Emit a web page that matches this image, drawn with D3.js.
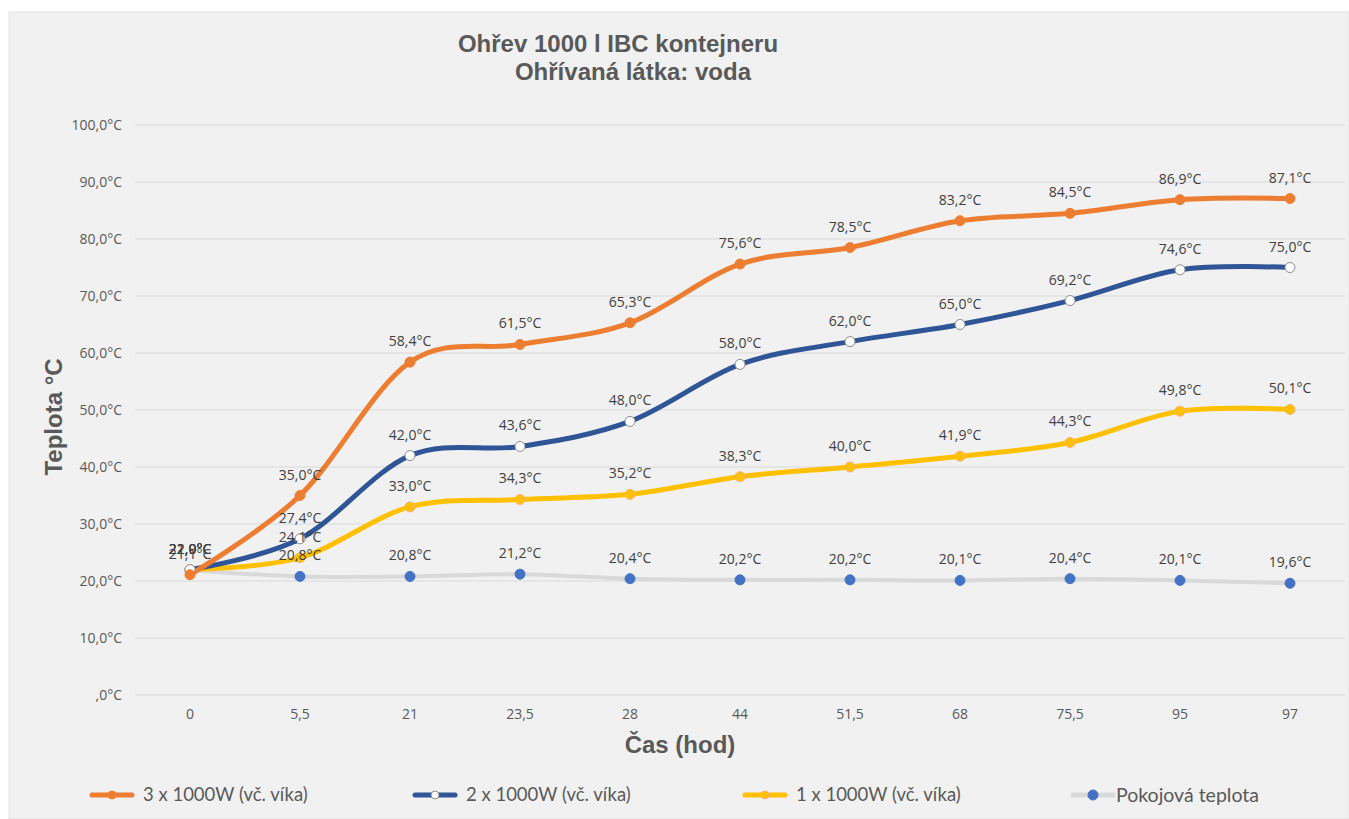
<!DOCTYPE html>
<html>
<head>
<meta charset="utf-8">
<script src="https://cdn.jsdelivr.net/npm/d3@7"></script>
<style>
  body { margin: 0; background: #fff; }
</style>
</head>
<body>
<svg id="chart" width="1349" height="819"></svg>
<script>
// Time points (hours) - categorical axis
const times = ["0", "5,5", "21", "23,5", "28", "44", "51,5", "68", "75,5", "95", "97"];

// Series values (°C)
const heat3 = [21.1, 35.0, 58.4, 61.5, 65.3, 75.6, 78.5, 83.2, 84.5, 86.9, 87.1];
const heat2 = [22.0, 27.4, 42.0, 43.6, 48.0, 58.0, 62.0, 65.0, 69.2, 74.6, 75.0];
const heat1 = [22.0, 24.1, 33.0, 34.3, 35.2, 38.3, 40.0, 41.9, 44.3, 49.8, 50.1];
const room  = [21.9, 20.8, 20.8, 21.2, 20.4, 20.2, 20.2, 20.1, 20.4, 20.1, 19.6];

const seriesNames = ["3 x 1000W (vč. víka)", "2 x 1000W (vč. víka)", "1 x 1000W (vč. víka)", "Pokojová teplota"];
const yTicks = [0, 10, 20, 30, 40, 50, 60, 70, 80, 90, 100];

const series = [
    { name: seriesNames[0], values: heat3, line: "#ED7D31", fill: "#ED7D31", stroke: "#ED7D31" },
    { name: seriesNames[1], values: heat2, line: "#2F5597", fill: "#ffffff", stroke: "#8c8c8c" },
    { name: seriesNames[2], values: heat1, line: "#FFC000", fill: "#FFC000", stroke: "#F4B183" },
    { name: seriesNames[3], values: room,  line: "#D9D9D9", fill: "#4472C4", stroke: "#4472C4" }
];

const svg = d3.select("#chart");
const textCol = "#595959";
const boldFont = "'Liberation Sans', Arial, sans-serif";
const bodyFont = "'Open Sans', sans-serif";

// chart area background
svg.append("rect")
    .attr("x", 9).attr("y", 12)
    .attr("width", 1340).attr("height", 807)
    .attr("fill", "#f1f1f1")
    .attr("stroke", "#e2e2e2");

// Title
const title = svg.append("text")
    .attr("text-anchor", "middle")
    .style("font-family", boldFont)
    .style("font-weight", "bold")
    .style("font-size", "24px")
    .attr("fill", textCol);
title.append("tspan").attr("x", 618).attr("y", 52).text("Ohřev 1000 l IBC kontejneru");
title.append("tspan").attr("x", 633).attr("y", 80).text("Ohřívaná látka: voda");

// Scales
const x = d3.scaleBand().domain(times).range([135, 1345]);
const y = d3.scaleLinear().domain([0, 100]).range([695, 125]);
const cx = d => x(d) + x.bandwidth() / 2;

// Gridlines
svg.append("g")
    .selectAll("line")
    .data(yTicks)
    .enter()
    .append("line")
    .attr("x1", 135).attr("x2", 1345)
    .attr("y1", d => y(d)).attr("y2", d => y(d))
    .attr("stroke", "#d9d9d9")
    .attr("stroke-width", 1);

// Y axis labels
const fmtY = v => (v === 0 ? ",0" : d3.format(".1f")(v).replace(".", ",")) + "°C";
const yAxis = svg.append("g")
    .attr("transform", "translate(135,0)")
    .call(d3.axisLeft(y).tickValues(yTicks).tickFormat(fmtY).tickSize(0).tickPadding(13));
yAxis.select(".domain").remove();
yAxis.selectAll("text").style("font-size", "14px").attr("fill", textCol)
    .style("font-family", bodyFont);

// X axis labels
const xAxis = svg.append("g")
    .attr("transform", "translate(0,695)")
    .call(d3.axisBottom(x).tickSize(0).tickPadding(14));
xAxis.select(".domain").remove();
xAxis.selectAll("text").style("font-size", "14px").attr("fill", textCol)
    .style("font-family", bodyFont);

// Axis titles
svg.append("text")
    .attr("transform", "translate(62,417) rotate(-90)")
    .attr("text-anchor", "middle")
    .style("font-family", boldFont)
    .style("font-weight", "bold")
    .style("font-size", "24px")
    .attr("fill", textCol)
    .text("Teplota °C");

svg.append("text")
    .attr("x", 680).attr("y", 753)
    .attr("text-anchor", "middle")
    .style("font-family", boldFont)
    .style("font-weight", "bold")
    .style("font-size", "24px")
    .attr("fill", textCol)
    .text("Čas (hod)");

// Lines (Excel-style smoothing)
const line = d3.line()
    .x((d, i) => cx(times[i]))
    .y(d => y(d))
    .curve(d3.curveCardinal.tension(0));

// draw room temperature first so it sits behind
const drawOrder = [3, 2, 1, 0];
drawOrder.forEach(k => {
    const s = series[k];
    svg.append("path")
        .datum(s.values)
        .attr("d", line)
        .attr("fill", "none")
        .attr("stroke", s.line)
        .attr("stroke-width", k === 3 ? 4 : 5)
        .attr("stroke-linecap", "round");
});

drawOrder.forEach(k => {
    const s = series[k];
    svg.append("g")
        .selectAll("circle")
        .data(s.values)
        .enter()
        .append("circle")
        .attr("cx", (d, i) => cx(times[i]))
        .attr("cy", d => y(d))
        .attr("r", 5)
        .attr("fill", s.fill)
        .attr("stroke", s.stroke)
        .attr("stroke-width", 1);
});

// Data labels
const fmtLabel = v => d3.format(".1f")(v).replace(".", ",") + "°C";
series.forEach(s => {
    svg.append("g")
        .selectAll("text")
        .data(s.values)
        .enter()
        .append("text")
        .attr("x", (d, i) => cx(times[i]))
        .attr("y", d => y(d) - 16)
        .attr("text-anchor", "middle")
        .style("font-family", bodyFont)
        .style("font-size", "14px")
        .attr("fill", "#404040")
        .text(fmtLabel);
});

// Legend
const legendX = [92, 415, 745, 1073];
const legend = svg.append("g");
series.forEach((s, i) => {
    const lg = legend.append("g").attr("transform", `translate(${legendX[i]},795)`);
    lg.append("line")
        .attr("x1", 0).attr("x2", 40)
        .attr("stroke", s.line)
        .attr("stroke-width", 5)
        .attr("stroke-linecap", "round");
    lg.append("circle")
        .attr("cx", 20).attr("r", i === 3 ? 5 : 4)
        .attr("fill", s.fill)
        .attr("stroke", s.stroke);
    lg.append("text")
        .attr("x", i === 3 ? 43 : 51)
        .attr("y", 0)
        .attr("dy", "0.35em")
        .style("font-family", "Lato, sans-serif")
        .style("font-size", i === 3 ? "19.5px" : "18.5px")
        .attr("fill", textCol)
        .text(s.name);
});
</script>
</body>
</html>
